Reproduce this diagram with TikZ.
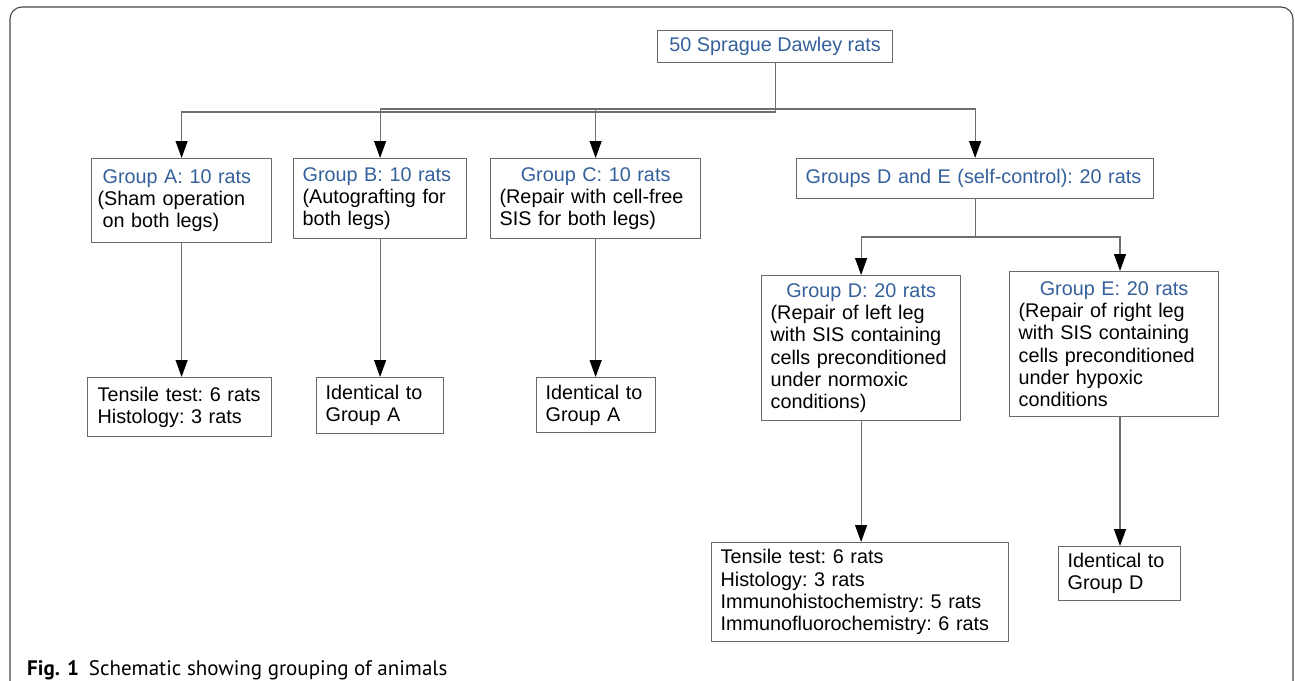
\documentclass[tikz,border=0pt]{standalone}
\usepackage{fontspec}
\setmainfont{Liberation Sans}
\newfontfamily\capfont{PT Sans}
\usetikzlibrary{arrows.meta}
\definecolor{tblue}{RGB}{52,96,156}
\definecolor{boxgray}{RGB}{105,105,105}
\definecolor{linegray}{RGB}{110,110,110}
\definecolor{framegray}{RGB}{70,70,70}
\newcommand\diagfont{\frenchspacing\fontsize{19.8}{22.3}\selectfont}
\newcommand\ttl[1]{\hfil{\color{tblue}#1}\hfil}
\tikzset{
  box/.style={draw=boxgray, line width=1.2pt, fill=white, inner xsep=9pt, inner ysep=0pt,
    anchor=north west, align=left, font=\diagfont},
  arr/.style={draw=linegray, line width=1.2pt, -{Triangle[length=17pt,width=12pt,color=black,fill=black]}},
}
\begin{document}
\begin{tikzpicture}[x=1pt,y=-1pt]
\useasboundingbox (0,0) rectangle (1295,680);
\clip (0,0) rectangle (1295,680);
\draw[framegray, line width=1.1pt, rounded corners=12pt] (10,720) -- (10,7) -- (1293,7) -- (1293,720);

% nodes
\node[box, align=center, minimum width=235pt, minimum height=32pt] (top) at (657,30) {\color{tblue}50 Sprague Dawley rats};
\node[box, inner xsep=6pt, text width=168pt, minimum height=84pt] (A) at (91,158)
  {\hspace*{5pt}{\color{tblue}Group A: 10 rats}\\(Sham operation\\\hspace*{5pt}on both legs)};
\node[box, text width=155pt, minimum height=80pt] (B) at (293,158)
  {{\color{tblue}Group B: 10 rats}\\(Autografting for\\both legs)};
\node[box, text width=192pt, minimum height=80pt] (C) at (490,158)
  {\ttl{Group C: 10 rats}\\(Repair with cell-free\\SIS for both legs)};
\node[box, text width=339pt, minimum height=40pt] (DE) at (796,158)
  {{\color{tblue}Groups D and E (self-control): 20 rats}};
\node[box, text width=181pt, minimum height=145pt] (D) at (761,275)
  {\ttl{Group D: 20 rats}\\(Repair of left leg\\with SIS containing\\\mbox{cells preconditioned}\\under normoxic\\conditions)};
\node[box, text width=191pt, minimum height=145pt] (E) at (1009,271)
  {\ttl{Group E: 20 rats}\\(Repair of right leg\\with SIS containing\\\mbox{cells preconditioned}\\under hypoxic\\conditions};
\node[box, inner xsep=10pt, text width=164pt, minimum height=59pt] (TA) at (87,377)
  {\mbox{Tensile test: 6 rats}\\Histology: 3 rats};
\node[box, text width=109pt, minimum height=56pt] (IB) at (316,377)
  {Identical to\\Group A};
\node[box, text width=101pt, minimum height=55pt] (IC) at (536,377)
  {Identical to\\Group A};
\node[box, text width=279pt, minimum height=99pt] (TD) at (711,542)
  {Tensile test: 6 rats\\Histology: 3 rats\\Immunohistochemistry: 5 rats\\Immunofluorochemistry: 6 rats};
\node[box, text width=104pt, minimum height=54pt] (ID) at (1058,546)
  {Identical to\\Group D};

% bus coordinates
\coordinate (busA) at (0,112);
\coordinate (busB) at (0,109);
\coordinate (busD) at (0,237);
\coordinate (Ein) at (1120,0);

% connectors
\draw[arr] (top.south) -- (top.south |- busA) -| (A.north);
\draw[arr] (top.south) -- (top.south |- busB) -| (B.north);
\draw[arr] (top.south) -- (top.south |- busB) -| (C.north);
\draw[arr] (top.south) -- (top.south |- busB) -| (DE.north);
\draw[arr] (DE.south) -- (DE.south |- busD) -| (D.north);
\draw[arr] (DE.south) -- (DE.south |- busD) -| (Ein |- E.north);
\draw[arr] (A.south) -- (A.south |- TA.north);
\draw[arr] (B.south) -- (B.south |- IB.north);
\draw[arr] (C.south) -- (C.south |- IC.north);
\draw[arr] (D.south) -- (D.south |- TD.north);
\draw[arr] (Ein |- E.south) -- (Ein |- ID.north);

% caption
\node[anchor=base west, inner sep=0pt, font=\capfont\fontsize{21}{25}\selectfont] (cap) at (27,675)
  {\textbf{Fig. 1}\hspace{10pt}Schematic showing grouping of animals};
\end{tikzpicture}
\end{document}
